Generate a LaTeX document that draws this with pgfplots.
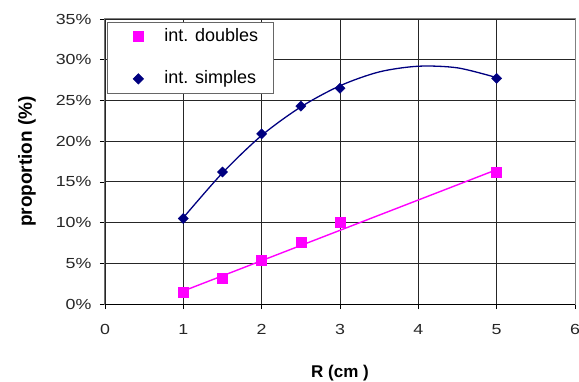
\documentclass[border=0pt]{standalone}
\usepackage{fontspec}
\setmainfont{Liberation Sans}
\newfontfamily\tickfont{Liberation Sans}[FakeStretch=1.22]
\usepackage{pgfplots}
\pgfplotsset{compat=1.18}
\definecolor{mag}{RGB}{255,0,255}
\definecolor{navy}{RGB}{0,0,128}
\begin{document}
\begin{tikzpicture}
\begin{axis}[
  scale only axis, width=470bp, height=285bp,
  at={(0,0)}, anchor=south west,
  xmin=0, xmax=6, ymin=0, ymax=35,
  xtick={0,1,2,3,4,5,6}, ytick={0,5,10,15,20,25,30,35},
  /pgf/number format/assume math mode=true,
  yticklabel={\pgfmathprintnumber{\tick}\%},
  tick label style={font=\tickfont\fontsize{14.6bp}{17bp}\selectfont, text=black!85},
  xticklabel style={yshift=-12bp},
  yticklabel style={xshift=-5bp},
  tick align=outside, major tick length=5bp,
  tick style={black, line width=0.7bp},
  xtick pos=bottom, ytick pos=left,
  grid=major,
  major grid style={black!85, line width=0.8bp},
  axis line style={draw=black!50, line width=1bp},
  xlabel={R (cm )},
  ylabel={proportion (\%)},
  xlabel style={font=\bfseries\fontsize{17bp}{20bp}\selectfont, at={(axis description cs:0.5,0)}, anchor=center, yshift=-69bp},
  ylabel style={font=\bfseries\fontsize{19bp}{22bp}\selectfont, at={(axis description cs:0,0.5)}, anchor=center, yshift=78bp},
  legend style={at={(rel axis cs:0,1)}, anchor=north west, xshift=2bp, yshift=-3bp,
    draw=black!60, line width=0.8bp, fill=white, inner xsep=15bp, inner ysep=6bp,
    font=\fontsize{18bp}{21bp}\selectfont, row sep=25bp, column sep=13bp,
    nodes={text height=13bp, text depth=4bp, inner sep=0pt}},
  legend cell align=left,
  legend image code/.code={\path[draw=none, fill=none] (0bp,-6bp) rectangle (29bp,6bp); \draw[#1] plot coordinates {(16bp,0bp)};},
]
% trend lines
\addplot[forget plot, mag, line width=1.4bp] coordinates {(1,1.6) (5,16.5)};
\addplot[forget plot, navy, line width=1.3bp, smooth] coordinates {
  (1,10.6) (1.5,16.1) (2,20.7) (2.5,24.2) (3,26.8) (3.5,28.5) (4,29.2) (4.5,29.0) (5,27.8)};
% data
\addplot[only marks, mark=square*, mark size=5bp, mag, mark options={fill=mag, draw=mag}] coordinates {
  (1,1.5) (1.5,3.2) (2,5.4) (2.5,7.6) (3,10.0) (5,16.2)};
\addlegendentry{int. doubles}
\addplot[only marks, mark=square*, mark size=3.6bp, navy, mark options={fill=navy, draw=navy, rotate=45}] coordinates {
  (1,10.5) (1.5,16.2) (2,20.9) (2.5,24.3) (3,26.5) (5,27.7)};
\addlegendentry{int. simples}
\draw[black, line width=1bp] (rel axis cs:0,0) -- (rel axis cs:0,1);
\draw[black, line width=1bp] (rel axis cs:0,0) -- (rel axis cs:1,0);
\end{axis}
\pgfresetboundingbox
\path[use as bounding box] (-105bp,-78bp) rectangle (474bp,304bp);
\end{tikzpicture}
\end{document}
